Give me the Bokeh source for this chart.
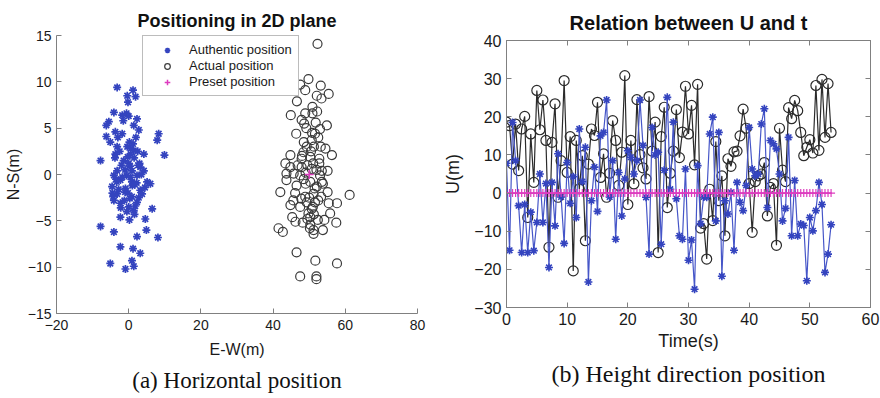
from bokeh.plotting import figure
from bokeh.layouts import row, column
from bokeh.models import Range1d, LinearAxis, Title, Legend, LegendItem, FixedTicker
from bokeh.embed import file_html
from bokeh.resources import INLINE

# ---------------- Panel (a): horizontal positions ----------------
auth_x = [-3.2, 1.2, -0.4, 1.9, -0.2, -4.1, -1.8, -0.6, 2.3, -5.5, -6.2, 1.4, 2.8, -3.7, -1.8, 8.3,
          -6.2, -5.1, 7.9, -3.2, -0.4, 1.4, -3.7, 0.5, 4.2, 9.9, -7.8, -1.4, 0.0, 3.2, -3.2, 0.9,
          4.2, -4.1, -0.6, 2.3, -2.3, 5.1, 0.9, 6.0, -4.6, -0.9, 3.2, -3.2, 3.7, -4.1, 0.9, -2.3,
          2.3, 0.0, 1.4, 6.5, -2.3, 4.6, 0.2, -7.8, -4.1, 4.9, 2.3, 8.1, -2.3, 1.2, 3.2, -5.1,
          -0.9, 1.4, 0.9,
          -2.5, -1.0, 0.5, 1.5, -3.5, 2.8, -1.2, 0.2, 1.0, -2.0, 3.0, -4.5, 2.0, -1.5, 0.0, -3.0,
          1.6, -0.5, 3.5, -2.8, 0.6, -1.8, 2.5, -0.2, 1.8, -3.8, 4.5, -2.2, 0.4, 2.2, -1.0, 1.2,
          -3.3, 0.3, 2.6, -4.3, -0.3, 1.7]
auth_y = [9.4, 9.1, 8.5, 8.4, 7.8, 6.7, 6.4, 6.6, 6.0, 5.7, 5.3, 5.3, 4.8, 4.6, 4.4, 4.4,
          4.1, 3.5, 3.7, 3.0, 3.0, 2.6, 2.2, 2.2, 2.2, 2.1, 1.5, 1.5, 1.2, 0.8, 0.4, 0.4,
          0.4, -0.1, -0.1, -0.1, -0.6, -0.8, -0.8, -1.0, -1.3, -1.5, -1.7, -2.1, -2.1, -2.8, -2.4, -3.1,
          -3.0, -3.5, -3.9, -3.7, -4.6, -4.8, -4.9, -5.6, -6.2, -6.0, -6.7, -6.8, -7.8, -8.0, -8.5, -9.6,
          -10.2, -9.9, -9.3,
          2.5, 0.5, -0.3, 1.8, -0.5, -2.5, -2.8, 3.5, -1.2, 1.0, 1.2, -2.0, 4.0, 5.8, 6.3, 4.0,
          -4.3, -4.0, 0.0, -1.6, 2.8, -0.3, 2.5, -2.0, -3.4, 1.8, -1.4, -3.6, 0.9, -0.9, -1.9, 3.3,
          -0.8, -2.6, 1.0, -2.4, 1.9, -1.1]

act_x = [52.3, 49.8, 47.5, 48.9, 53.2, 55.4, 52.1, 53.4, 46.6, 50.9, 48.9, 50.9, 44.9, 47.9, 48.6, 54.9,
         53.0, 51.6, 46.4, 50.7, 52.5, 49.3, 51.3, 48.4, 44.8, 56.3, 47.9, 50.3, 52.8, 51.1, 43.4, 44.8,
         47.9, 50.7, 53.5, 55.1, 43.7, 45.7, 47.5, 53.0, 43.7, 50.3, 53.5, 52.1, 51.2, 42.0, 46.1, 55.1,
         61.2, 48.9, 53.3, 45.6, 49.3, 51.6, 44.8, 55.4, 57.7, 50.7, 49.8, 55.8, 45.3, 50.3, 46.2, 52.4,
         54.2, 57.5, 50.3, 51.2, 53.8, 51.2, 41.5, 42.7, 46.5, 51.7, 57.7, 47.5, 52.0, 52.0,
         48.0, 49.5, 50.5, 51.5, 49.0, 52.0, 48.5, 50.0, 51.0, 49.5, 52.5, 47.5, 48.5, 50.8, 51.8, 49.2,
         53.2, 47.8, 50.2, 51.3, 52.8, 46.8, 49.0, 53.8, 54.5, 46.5, 48.2, 52.2]
act_y = [14.1, 10.3, 9.7, 9.1, 9.6, 8.7, 8.5, 8.2, 7.9, 7.3, 6.6, 6.6, 6.4, 5.9, 5.5, 5.3,
         4.9, 4.4, 4.4, 3.7, 4.0, 3.0, 3.0, 2.4, 2.1, 2.1, 1.7, 1.9, 1.7, 1.2, 1.2, 0.8,
         0.8, 0.6, 0.4, 0.4, 0.1, 0.1, -0.1, -0.1, -0.6, -0.8, -0.8, -1.3, -2.1, -1.9, -2.0, -1.9,
         -2.2, -2.4, -2.4, -2.8, -3.0, -3.0, -3.3, -3.1, -3.1, -3.7, -4.2, -4.2, -4.6, -4.6, -5.1, -4.9,
         -4.9, -5.2, -5.4, -6.0, -6.0, -6.4, -5.8, -6.2, -8.4, -9.3, -9.6, -11.0, -11.0, -11.3,
         2.0, 1.0, 2.5, -1.5, -1.0, 0.5, 3.5, -2.5, -3.5, -4.8, -2.8, -3.5, -0.5, 4.5, 5.6, 5.0,
         3.0, -2.6, -5.8, -4.3, 1.2, 1.0, 0.2, -1.0, 2.8, -1.2, -5.2, 6.8]

preset_x = [50.0]
preset_y = [0.0]

x1_ticks = [-20, 0, 20, 40, 60, 80]
y1_ticks = [-15, -10, -5, 0, 5, 10, 15]

# ---------------- Panel (b): height vs time ----------------
time_step = 0.5
u_authentic = [
    7.8, -15.0, 18.5, 8.5, -3.3, -15.6, -3.0, -15.6, -5.0, -15.1,
    -7.7, 5.0, -7.7, 2.5, -19.5, 2.8, -8.6, 10.3, -1.0, -13.2,
    8.0, -2.7, 4.3, -6.4, 16.8, 3.0, 12.0, -23.3, -2.0, 6.8,
    -4.8, 15.0, 15.9, 24.4, -1.0, 8.5, -12.1, 5.4, -6.0, 3.7,
    11.1, 9.4, 5.0, 8.5, 24.4, 12.5, -1.1, -16.0, 17.2, 10.0,
    10.7, -13.4, 6.0, 25.1, 1.0, 18.6, -1.5, -11.2, -12.1, 6.3,
    -17.6, -12.3, -25.2, 7.2, -8.0, -1.0, -1.1, 15.5, 19.9, -7.3,
    15.9, -21.8, -2.0, -5.5, 0.2, -15.0, 2.8, -2.4, -4.6, 2.0,
    17.2, 6.3, 4.5, 5.0, 18.1, 22.1, -3.8, 13.8, 12.9, 11.6,
    5.0, -7.3, -4.0, 14.6, -11.2, 3.3, -11.2, -8.1, -8.5, -23.0,
    -6.4, -9.9, -4.6, 2.8, -3.0, -20.8, -16.0, -8.3]
u_actual = [
    18.6, 17.7, 7.6, 18.1, 5.9, 16.8, 20.1, -6.4, 15.5, 2.8,
    26.9, 16.6, 24.4, 13.8, -14.2, 13.3, 23.4, -1.1, 8.5, 29.5,
    5.4, 14.8, -20.4, 13.8, 1.1, 9.8, -12.5, 7.6, 16.8, 15.1,
    23.8, 4.1, 10.3, -1.1, 5.2, 19.0, 13.8, 2.0, 10.7, 30.8,
    -3.0, 13.8, 2.4, 24.5, 10.1, 6.6, 3.7, 25.3, 11.0, 18.6,
    -15.6, 14.8, 22.5, -3.8, 5.2, 11.0, 21.9, 9.3, 16.0, 28.0,
    15.5, 23.0, 7.4, 28.5, -9.2, -8.0, -17.3, 1.0, -7.2, 13.5,
    -2.0, 4.5, -11.2, 9.0, 7.0, 10.8, 11.0, 15.0, 22.0, 17.0,
    2.5, -10.3, 3.0, 4.5, 5.0, 8.0, -6.0, 1.5, 2.5, -13.7,
    17.0, 6.0, 3.0, 22.4, 19.5, 24.3, 21.6, 15.9, 9.8, 12.0,
    14.0, 10.5, 28.2, 11.2, 29.8, 14.6, 28.7, 15.9]
u_preset = [0.0] * len(u_actual)

t_auth = [time_step * i for i in range(len(u_authentic))]
t_act = [time_step * i for i in range(len(u_actual))]
t_pre = [time_step * i for i in range(len(u_preset))]

x2_ticks = [0, 10, 20, 30, 40, 50, 60]
y2_ticks = [-30, -20, -10, 0, 10, 20, 30, 40]

BLUE = "#3444bf"
BLUE_LINE = "#4656c8"
BLACK = "#2b2b2b"
MAGENTA = "#dd3cbf"
AXIS = "#808080"
FONT = "Liberation Sans"


def style_axis(ax, tick_size, label_size, standoff_lbl, standoff_axis):
    ax.axis_line_color = AXIS
    ax.major_tick_line_color = AXIS
    ax.minor_tick_line_color = None
    ax.major_tick_in = 5
    ax.major_tick_out = 0
    ax.major_label_text_font = FONT
    ax.major_label_text_font_size = tick_size
    ax.major_label_text_color = "#1a1a1a"
    ax.major_label_standoff = standoff_lbl
    ax.axis_label_text_font = FONT
    ax.axis_label_text_font_size = label_size
    ax.axis_label_text_font_style = "normal"
    ax.axis_label_text_color = "#1a1a1a"
    ax.axis_label_standoff = standoff_axis


# ---- figure (a) ----
p1 = figure(width=440, height=398, x_range=Range1d(-20, 80), y_range=Range1d(-15, 15),
            output_backend="svg", toolbar_location=None,
            min_border_left=56, min_border_right=23, min_border_top=35, min_border_bottom=85)
p1.outline_line_color = None
p1.grid.visible = False
p1.background_fill_color = "white"
p1.border_fill_color = "white"
p1.title.text = "Positioning in 2D plane"
p1.title.align = "center"
p1.title.text_font = FONT
p1.title.text_font_size = "18px"
p1.title.text_font_style = "bold"
p1.title.text_color = "#111111"
p1.title.standoff = 10
p1.xaxis.ticker = FixedTicker(ticks=x1_ticks)
p1.yaxis.ticker = FixedTicker(ticks=y1_ticks)
p1.xaxis.axis_label = "E-W(m)"
p1.yaxis.axis_label = "N-S(m)"
style_axis(p1.xaxis[0], "14px", "16px", 6, 8)
style_axis(p1.yaxis[0], "14px", "16px", 5, 3)

r_auth = p1.scatter(auth_x, auth_y, marker="asterisk", size=8, line_color=BLUE, line_width=1.7)
r_act = p1.scatter(act_x, act_y, marker="circle", size=9, fill_color=None, line_color="#3a3a3a", line_width=1.2)
r_pre = p1.scatter(preset_x, preset_y, marker="cross", size=9, line_color=MAGENTA, line_width=1.5)

legend = Legend(items=[LegendItem(label="Authentic position", renderers=[r_auth]),
                       LegendItem(label="Actual position", renderers=[r_act]),
                       LegendItem(label="Preset position", renderers=[r_pre])],
                location=(86, 217))
legend.border_line_color = "#7a7a7a"
legend.border_line_width = 1
legend.background_fill_color = "white"
legend.background_fill_alpha = 1.0
legend.label_text_font = FONT
legend.label_text_font_size = "13px"
legend.label_text_color = "#1a1a1a"
legend.padding = 6
legend.spacing = 1
legend.margin = 0
legend.glyph_width = 36
legend.glyph_height = 14
legend.label_height = 14
legend.label_standoff = 4
p1.add_layout(legend)

p1.add_layout(Title(text="(a) Horizontal position", align="center", text_font="Liberation Serif",
                    text_font_size="23px", text_font_style="normal", text_color="#111111",
                    standoff=10), "below")

# ---- figure (b) ----
p2 = figure(width=440, height=398, x_range=Range1d(0, 60), y_range=Range1d(-30, 40),
            output_backend="svg", toolbar_location=None,
            min_border_left=65, min_border_right=10, min_border_top=40, min_border_bottom=91)
p2.outline_line_color = AXIS
p2.grid.visible = False
p2.background_fill_color = "white"
p2.border_fill_color = "white"
p2.title.text = "Relation between U and t"
p2.title.align = "center"
p2.title.text_font = FONT
p2.title.text_font_size = "20px"
p2.title.text_font_style = "bold"
p2.title.text_color = "#111111"
p2.title.standoff = 13
p2.xaxis.ticker = FixedTicker(ticks=x2_ticks)
p2.yaxis.ticker = FixedTicker(ticks=y2_ticks)
p2.xaxis.axis_label = "Time(s)"
p2.yaxis.axis_label = "U(m)"
style_axis(p2.xaxis[0], "16px", "18px", 5, 3)
style_axis(p2.yaxis[0], "16px", "18px", 5, 8)

ax_r = LinearAxis(ticker=FixedTicker(ticks=y2_ticks))
style_axis(ax_r, "0px", "0px", 0, 0)
p2.add_layout(ax_r, "right")
ax_t = LinearAxis(ticker=FixedTicker(ticks=x2_ticks))
style_axis(ax_t, "0px", "0px", 0, 0)
p2.add_layout(ax_t, "above")

p2.line(t_act, u_actual, line_color=BLACK, line_width=1.2)
p2.scatter(t_act, u_actual, marker="circle", size=10, fill_color=None, line_color=BLACK, line_width=1.2)
p2.line(t_auth, u_authentic, line_color=BLUE_LINE, line_width=1.2)
p2.scatter(t_auth, u_authentic, marker="asterisk", size=8, line_color=BLUE, line_width=1.6)
p2.line(t_pre, u_preset, line_color=MAGENTA, line_width=1.2)
p2.scatter(t_pre, u_preset, marker="cross", size=8, line_color=MAGENTA, line_width=1.2)

p2.add_layout(Title(text="(b) Height direction position", align="center", text_font="Liberation Serif",
                    text_font_size="24px", text_font_style="normal", text_color="#111111",
                    standoff=11), "below")

layout = row(column(p1), column(p2))
open("out.html", "w").write(file_html(layout, INLINE))
